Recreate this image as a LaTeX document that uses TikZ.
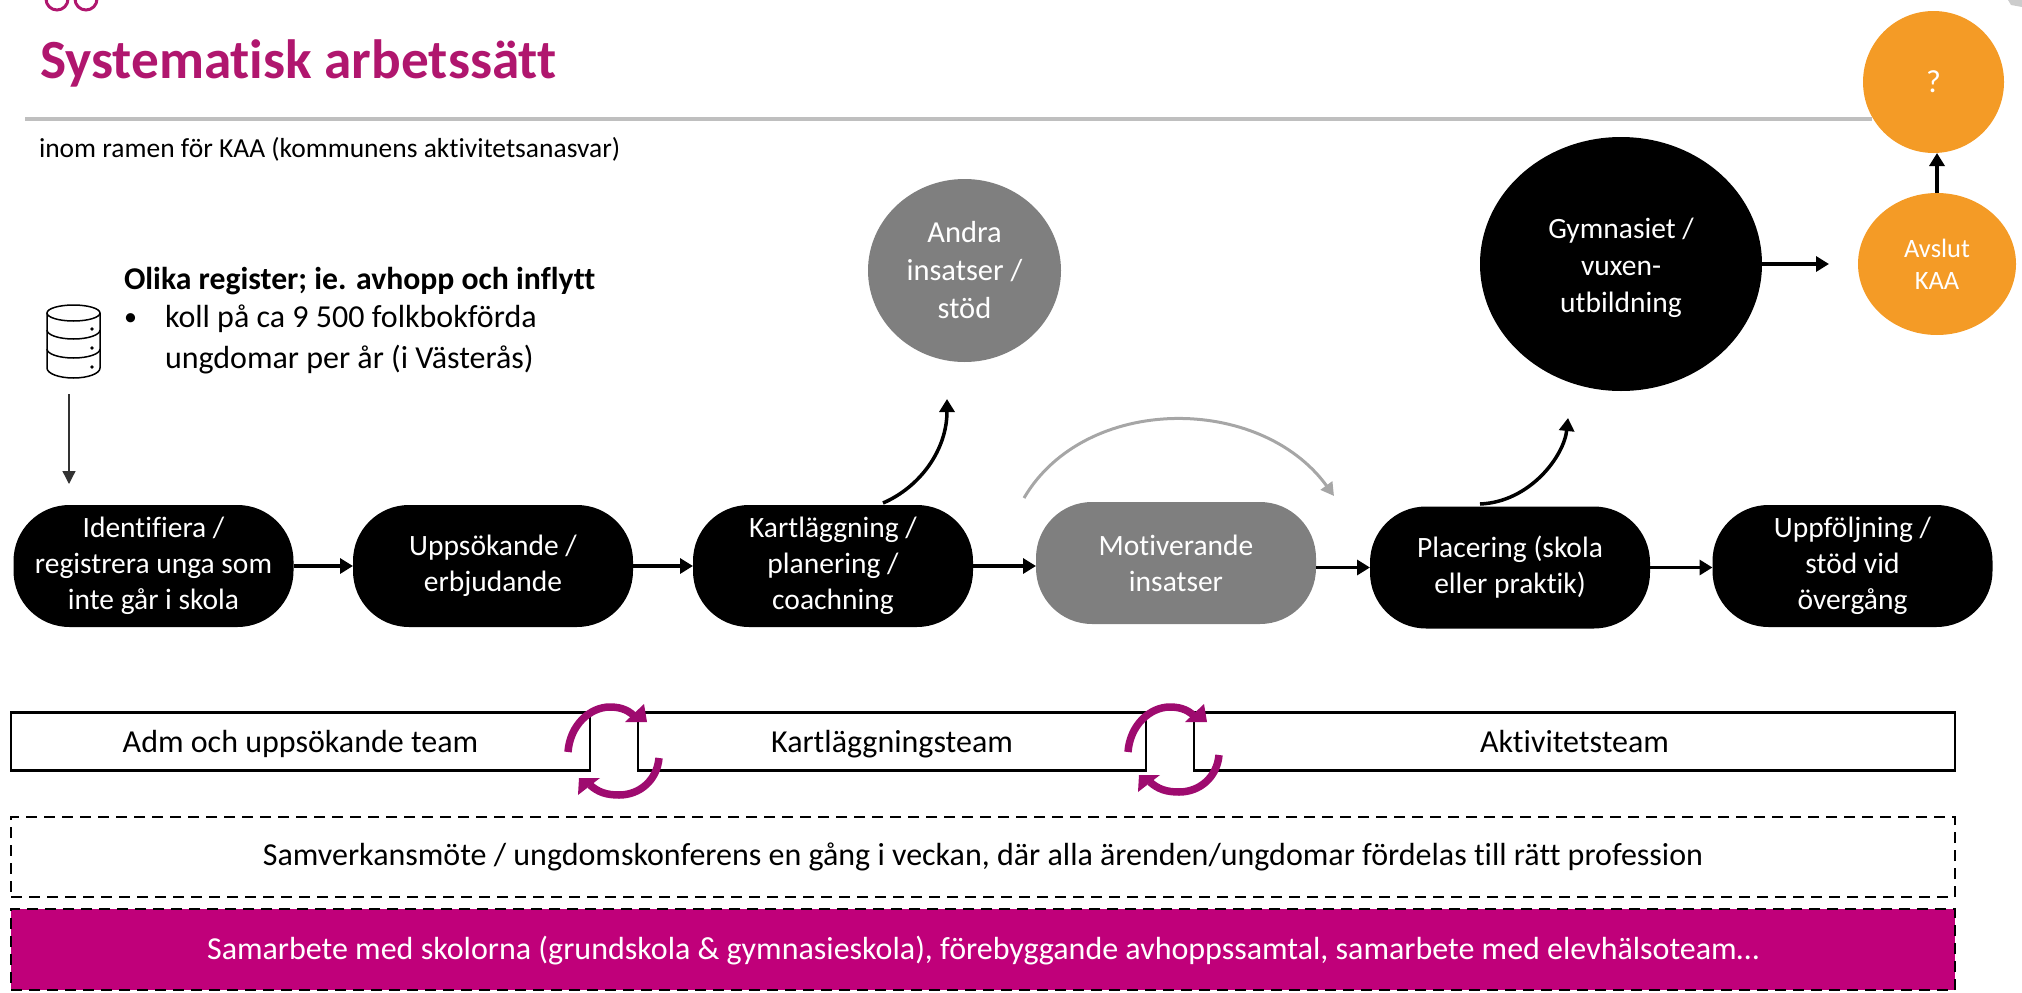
\documentclass[tikz,border=0pt]{standalone}
\usepackage{fontspec}
\setmainfont[Ligatures=NoCommon]{Carlito}
\usetikzlibrary{arrows.meta,calc,shapes.geometric}
\definecolor{mag}{HTML}{C0007A}
\definecolor{titlemag}{HTML}{B0166E}
\definecolor{cyc}{HTML}{9E0B6F}
\definecolor{orng}{HTML}{F49B26}
\definecolor{gry}{HTML}{7F7F7F}
\definecolor{lgry}{HTML}{A6A6A6}
\tikzset{
  every node/.style={inner sep=0pt,outer sep=0pt},
  pill/.style={rounded corners=56pt,fill=black,text=white,align=center,minimum width=280pt,minimum height=122pt,font=\fontsize{29.5}{36}\selectfont},
  blob/.style={ellipse,fill=black,text=white,align=center},
  flow/.style={line width=3.5pt,-{Triangle[length=13pt,width=15pt]}},
  thinflow/.style={line width=1.3pt,draw=black!80,-{Triangle[length=13pt,width=13pt]}},
  grayflow/.style={line width=3pt,draw=lgry,-{Triangle[length=13pt,width=14pt]}},
  team/.style={draw=black,line width=2.5pt,fill=white},
  cycline/.style={draw=cyc,line width=7.5pt},
  big/.style={font=\fontsize{32}{38}\selectfont},
  body/.style={big,anchor=base west},
}
\begin{document}
\begin{tikzpicture}[x=1pt,y=-1pt]
\useasboundingbox (0,0) rectangle (2022,993);
% logo fragment
\draw[titlemag,line width=3pt] (57,-1) circle[radius=11];
\draw[titlemag,line width=3pt] (86,-1) circle[radius=11];
\fill[black!20] (2008,0) -- (2022,0) -- (2022,7) -- (2011,5) -- cycle;
% header
\node[anchor=base west,text=titlemag,font=\fontsize{55.3}{66}\selectfont\bfseries] (title) at (40,78) {Systematisk arbetssätt};
\draw[line width=4pt,draw=black!25] (25,119) -- (1872,119);
\node[anchor=base west,font=\fontsize{27.5}{33}\selectfont] (sub) at (39,157) {inom ramen för KAA (kommunens aktivitetsanasvar)};
% database icon
\begin{scope}[line width=1.5pt]
\draw (47,313) -- (47,368) arc[x radius=26.5,y radius=10,start angle=180,end angle=0] -- (100,313);
\draw (73.5,313) ellipse[x radius=26.5,y radius=8];
\draw (47,330) arc[x radius=26.5,y radius=9,start angle=180,end angle=0];
\draw (47,349) arc[x radius=26.5,y radius=9,start angle=180,end angle=0];
\fill (92,329) circle[radius=1.8] (92,348) circle[radius=1.8] (92,367) circle[radius=1.8];
\end{scope}
\coordinate (dbout) at (69,394);
\coordinate (dbend) at (69,484);
\draw[thinflow] (dbout) -- (dbend);
\node[body,font=\fontsize{31.7}{38}\selectfont\bfseries] (reg) at (124,289) {Olika register; ie. avhopp och inflytt};
\node[body,font=\fontsize{26}{30}\selectfont] (bul) at (124,325) {•};
\node[body] (l1) at (165,327) {koll på ca 9 500 folkbokförda};
\node[body] (l2) at (165,368) {ungdomar per år (i Västerås)};
% process
\node[pill] (n1) at (153.5,566) {Identifiera /\\registrera unga som\\inte går i skola};
\node[pill] (n2) at (493,566) {Uppsökande /\\erbjudande};
\node[pill] (n3) at (833,566) {Kartläggning /\\planering /\\coachning};
\node[pill,fill=gry] (n4) at (1176,563) {Motiverande\\insatser};
\node[pill] (n5) at (1510,567.5) {Placering (skola\\eller praktik)};
\node[pill] (n6) at (1852.5,566) {Uppföljning /\\stöd vid\\övergång};
\draw[flow] (n1.east) -- (n2.west);
\draw[flow] (n2.east) -- (n3.west);
\draw[flow] (n3.east) -- (n3.east -| n4.west);
\draw[flow] (n4.east |- n5.west) -- (n5.west);
\draw[flow] (n5.east) -- (n5.east -| n6.west);
% circles
\node[blob,fill=gry,minimum width=193pt,minimum height=183pt,font=\fontsize{30.5}{38}\selectfont] (andra) at (964.5,270.5) {Andra\\insatser /\\stöd};
\node[blob,minimum width=282pt,minimum height=254pt,font=\fontsize{29.5}{37}\selectfont] (gym) at (1621,264) {\rule{0pt}{28pt}Gymnasiet /\\vuxen-\\utbildning};
\node[blob,fill=orng,minimum width=158pt,minimum height=142pt,font=\fontsize{26.5}{32}\selectfont] (avs) at (1937,264) {Avslut\\KAA};
\node[blob,fill=orng,minimum width=141pt,minimum height=142pt,font=\fontsize{32}{38}\selectfont] (q) at (1933.5,82) {?};
\coordinate (a1) at (883,503);
\coordinate (a2) at (947,399);
\coordinate (b1) at (1480,504);
\coordinate (b2) at (1568,418);
\coordinate (c1) at (1024,498);
\coordinate (c2) at (1334,496);
\coordinate (g2) at (1829,264);
\draw[flow] (a1) .. controls (920,487) and (947,450) .. (a2);
\draw[flow] (b1) .. controls (1530,502) and (1564,456) .. (b2);
\draw[grayflow] (c1) .. controls (1085,394) and (1260,394) .. (c2);
\draw[flow] (gym.east) -- (g2);
\draw[flow] (avs.north) -- (avs.north |- q.south);
% teams
\node[team,minimum width=579pt,minimum height=58pt] (t1) at (300.5,741.5) {};
\node[team,minimum width=508pt,minimum height=58pt] (t2) at (892,741.5) {};
\node[team,minimum width=761pt,minimum height=58pt] (t3) at (1574.5,741.5) {};
\node[big,anchor=base] (t1t) at (300.5,752) {Adm och uppsökande team};
\node[big,anchor=base] (t2t) at (892,752) {Kartläggningsteam};
\node[big,anchor=base] (t3t) at (1574.5,752) {Aktivitetsteam};
% cycle arrows
\foreach \dx/\dy in {0/0,560/-3}{
\begin{scope}[xshift=\dx pt]
\draw[cycline] (568,752) .. controls (570,725) and (590,707) .. (610,707) .. controls (622,707) and (630,711) .. (636,718);
\fill[cyc] (644,704) -- (647,722) -- (625,722) -- cycle;
\end{scope}
\begin{scope}[xshift=\dx pt,yshift=-\dy pt]
\draw[cycline] (659,758) .. controls (657,780) and (640,795) .. (619,795) .. controls (606,795) and (598,792) .. (590,785);
\fill[cyc] (578,795) -- (579,778) -- (600,778) -- cycle;
\end{scope}}
% bands
\node[draw=black,line width=2pt,dash pattern=on 11pt off 7pt,fill=white,minimum width=1944pt,minimum height=80pt] (sam) at (983,857) {};
\node[big,anchor=base] (samt) at (983,865) {Samverkansmöte / ungdomskonferens en gång i veckan, där alla ärenden/ungdomar fördelas till rätt profession};
\node[draw=black,line width=2pt,dash pattern=on 11pt off 7pt,fill=mag,minimum width=1944pt,minimum height=81pt] (skol) at (983,949.5) {};
\node[big,anchor=base,text=white] (skolt) at (983,959) {Samarbete med skolorna (grundskola \& gymnasieskola), förebyggande avhoppssamtal, samarbete med elevhälsoteam…};
\end{tikzpicture}
\end{document}
